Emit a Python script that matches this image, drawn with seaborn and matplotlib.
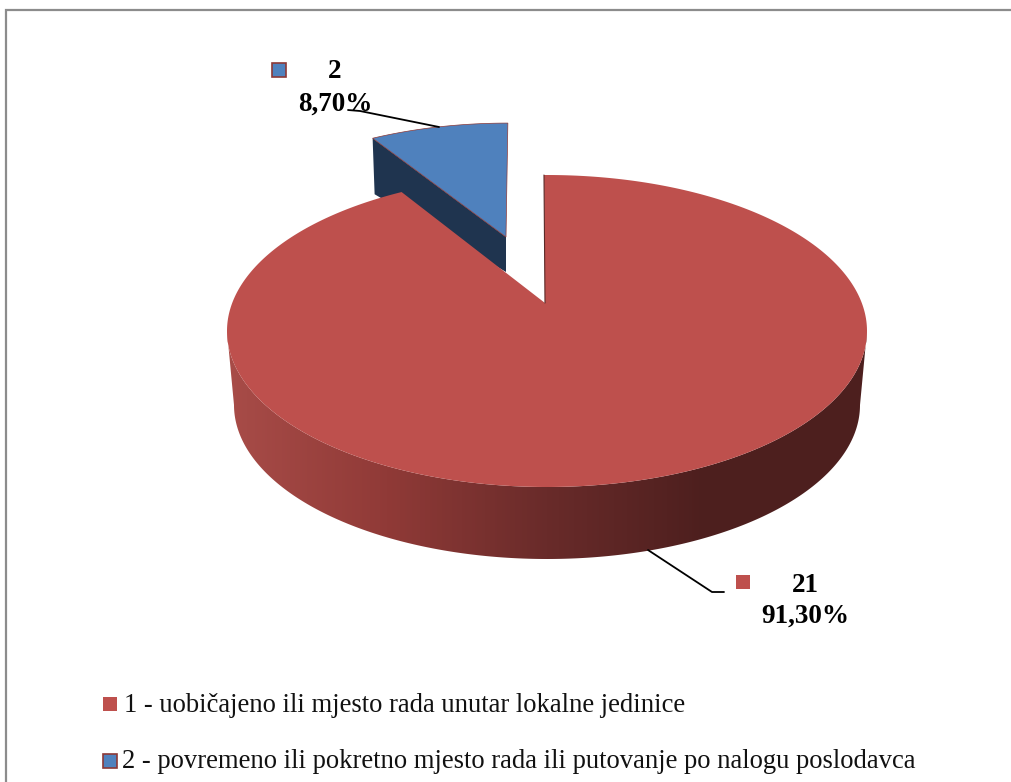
import numpy as np
import matplotlib
matplotlib.use("Agg")
import matplotlib.pyplot as plt
from matplotlib.patches import Polygon
import seaborn as sns

# ---- data ----
categories = ["1 - uobičajeno ili mjesto rada unutar lokalne jedinice",
              "2 - povremeno ili pokretno mjesto rada ili putovanje po nalogu poslodavca"]
counts = [21, 2]
shares = [91.30, 8.70]
share_labels = ["91,30%", "8,70%"]

RED, BLUE = "#BE504D", "#4F81BD"
BLUE_DARK = "#1F344F"
EDGE = "#8C3836"

sns.set_theme(style="white")
plt.rcParams["font.family"] = ["Liberation Serif", "DejaVu Serif"]

W, H = 1011, 782
fig = plt.figure(figsize=(W / 100, H / 100), dpi=100, facecolor="white")
ax = fig.add_axes([0, 0, 1, 1])
ax.axis("off")

# geometry of the perspective pie
CX, CY, RX, RY = 547, 331, 320, 156
BCX, BCY, BRX, BRY = 547, 405, 313, 154
TIP = np.array([545, 303])
WARP = 0.863
START = -0.54


def rim(deg, cx=CX, cy=CY, rx=RX, ry=RY):
    t = np.radians(deg)
    return np.column_stack([cx + rx * np.sin(t), cy - ry * np.cos(t)])


# angles (clockwise from 12 o'clock, warped by the perspective)
blue_sweep = shares[1] / 100 * 360 * WARP
red_end = 360 - blue_sweep

# blue exploded slice
B_SCALE, B_TIP = np.array([0.93, 0.89]), np.array([506, 237])
blue_arc = B_TIP + B_SCALE * (rim(np.linspace(red_end, 360, 40)) - TIP)
b_left = blue_arc[0]
ax.fill([b_left[0], B_TIP[0], B_TIP[0], b_left[0] + 2],
        [b_left[1], B_TIP[1], B_TIP[1] + 35, b_left[1] + 56],
        color=BLUE_DARK, lw=0, zorder=2)
blue_poly = np.vstack([B_TIP, blue_arc])
ax.fill(blue_poly[:, 0], blue_poly[:, 1], facecolor=BLUE, edgecolor=EDGE, lw=0.5, zorder=3)

# red side wall with gradient
cmap = sns.blend_palette(["#A84C48", "#903A37", "#692B2A", "#4D1F1E", "#4D1F1E"], as_cmap=True)
side_top = rim(np.linspace(90, 270, 300))
side_bot = rim(np.linspace(270, 90, 300), BCX, BCY, BRX, BRY)
side = Polygon(np.vstack([side_top, side_bot]), closed=True, transform=ax.transData,
               facecolor="none", edgecolor="none")
ax.add_patch(side)
img = ax.imshow(np.linspace(0, 1, 640)[None, :], cmap=cmap, aspect="auto",
                extent=(CX - RX, CX + RX, 600, 300), zorder=4)
img.set_clip_path(side)

ax.set_xlim(0, W)
ax.set_ylim(H, 0)

# frame (cropped on right and bottom)
ax.plot([6, 6, W], [H, 10, 10], color="#8C8C8C", lw=1.6, solid_joinstyle="miter")

# red top face
red_arc = rim(np.linspace(START, red_end, 400))
red_poly = np.vstack([TIP, red_arc])
ax.fill(red_poly[:, 0], red_poly[:, 1], color=RED, lw=0, zorder=5)
ax.plot([TIP[0], red_arc[0, 0]], [TIP[1], red_arc[0, 1]], color="#5A2A28", lw=0.8, zorder=6)

# leader lines
ax.plot([348, 360, 439], [110, 111, 127], color="black", lw=1.3, zorder=7)
ax.plot([648, 712, 724], [550, 592, 592], color="black", lw=1.3, zorder=7)

# data labels
lab = dict(fontsize=19.5, fontweight="bold", color="black", ha="center", va="center", zorder=8)
ax.text(335, 71, str(counts[1]), **lab)
ax.text(335, 104, share_labels[1], **lab)
ax.text(805, 585, str(counts[0]), **lab)
ax.text(805, 616, share_labels[0], **lab)
ax.plot(279, 70, "s", ms=9.5, mfc=BLUE, mec=EDGE, mew=1.2, zorder=8)
ax.plot(743, 582, "s", ms=10, mfc=RED, mec=RED, mew=0, zorder=8)

# legend
ax.plot(110, 704, "s", ms=10, mfc=RED, mec=RED, mew=0)
ax.plot(110, 761, "s", ms=9.5, mfc=BLUE, mec=EDGE, mew=1.2)
ax.text(124, 706, categories[0], fontsize=19.2, color="#111111", va="center", ha="left")
ax.text(122, 762, categories[1], fontsize=19.2, color="#111111", va="center", ha="left")

fig.savefig("out.png", dpi=100, facecolor="white")
